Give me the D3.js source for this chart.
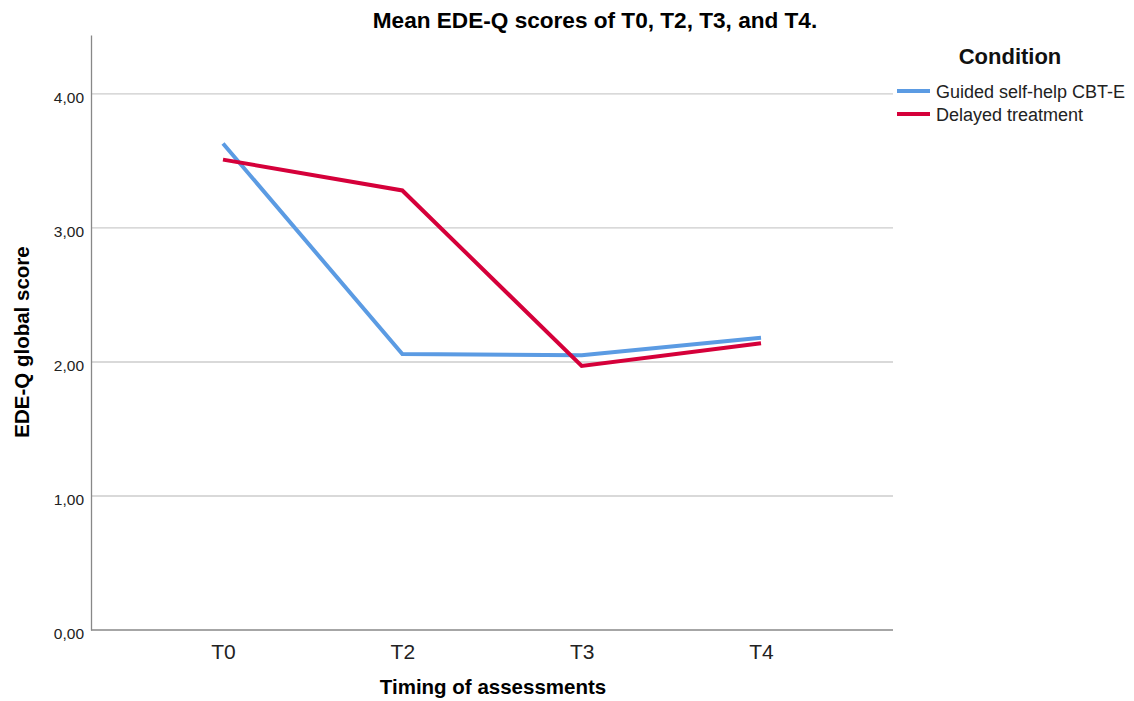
<!DOCTYPE html>
<html><head><meta charset="utf-8">
<script src="https://cdn.jsdelivr.net/npm/d3@7"></script>
<style>body{margin:0;background:#fff;} svg{display:block;font-family:"Liberation Sans",Arial,sans-serif;}</style>
</head><body>
<svg id="c" width="1134" height="701"></svg>
<script>
const categories = ["T0","T2","T3","T4"];
const seriesNames = ["Guided self-help CBT-E","Delayed treatment"];
const guided = [3.63, 2.06, 2.05, 2.18];
const delayed = [3.51, 3.28, 1.97, 2.14];
const yTicks = [0,1,2,3,4];
const colors = ["#5b9be3","#d5003a"];

const svg = d3.select("#c");
const L=91, R=893, T=35, B=630;
const x = d3.scalePoint().domain(categories).range([L,R]).padding(0.736);
const y = d3.scaleLinear().domain([0,4.44]).range([B,T]);

// gridlines
svg.append("g").selectAll("line").data(yTicks.filter(d=>d>0)).join("line")
  .attr("x1",L).attr("x2",R).attr("y1",d=>y(d)).attr("y2",d=>y(d))
  .attr("stroke","#cccccc").attr("stroke-width",1.3);

// axes
const ya = svg.append("g").attr("transform",`translate(${L},0)`)
  .call(d3.axisLeft(y).tickValues(yTicks).tickSize(0).tickPadding(7).tickFormat(d=>d3.format(".2f")(d).replace(".",",")));
ya.select(".domain").attr("stroke","#888").attr("stroke-width",1.3);
ya.selectAll("text").style("font-size","15.5px").attr("fill","#222").attr("dy","0.55em");

const xa = svg.append("g").attr("transform",`translate(0,${B})`)
  .call(d3.axisBottom(x).tickSize(0).tickPadding(14));
xa.select(".domain").attr("stroke","#888").attr("stroke-width",1.3).attr("d",`M${L},0H${R}`);
xa.selectAll("text").style("font-size","21px").attr("fill","#222");

// lines
const line = d3.line().x((d,i)=>x(categories[i])).y(d=>y(d));
[guided, delayed].forEach((s,k)=>{
  svg.append("path").datum(s).attr("d",line).attr("fill","none")
    .attr("stroke",colors[k]).attr("stroke-width",4).attr("stroke-linejoin","miter");
});

// title
svg.append("text").attr("x",595).attr("y",28).attr("text-anchor","middle")
  .attr("font-size",22.6).attr("font-weight","bold").attr("fill","#000")
  .text("Mean EDE-Q scores of T0, T2, T3, and T4.");

// axis titles
svg.append("text").attr("x",493).attr("y",694).attr("text-anchor","middle")
  .attr("font-size",20.5).attr("font-weight","bold").attr("fill","#000")
  .text("Timing of assessments");
svg.append("text").attr("transform","translate(29,342) rotate(-90)").attr("text-anchor","middle")
  .attr("font-size",20.5).attr("font-weight","bold").attr("fill","#000")
  .text("EDE-Q global score");

// legend
svg.append("text").attr("x",1010).attr("y",64).attr("text-anchor","middle")
  .attr("font-size",22).attr("font-weight","bold").attr("fill","#111").text("Condition");
const lg = svg.append("g").selectAll("g").data(seriesNames).join("g")
  .attr("transform",(d,i)=>`translate(897,${91+i*23})`);
lg.append("line").attr("x1",0).attr("x2",33).attr("stroke",(d,i)=>colors[i]).attr("stroke-width",4);
lg.append("text").attr("x",39).attr("y",7).attr("font-size",18).attr("fill","#222").text(d=>d);
</script>
</body></html>
